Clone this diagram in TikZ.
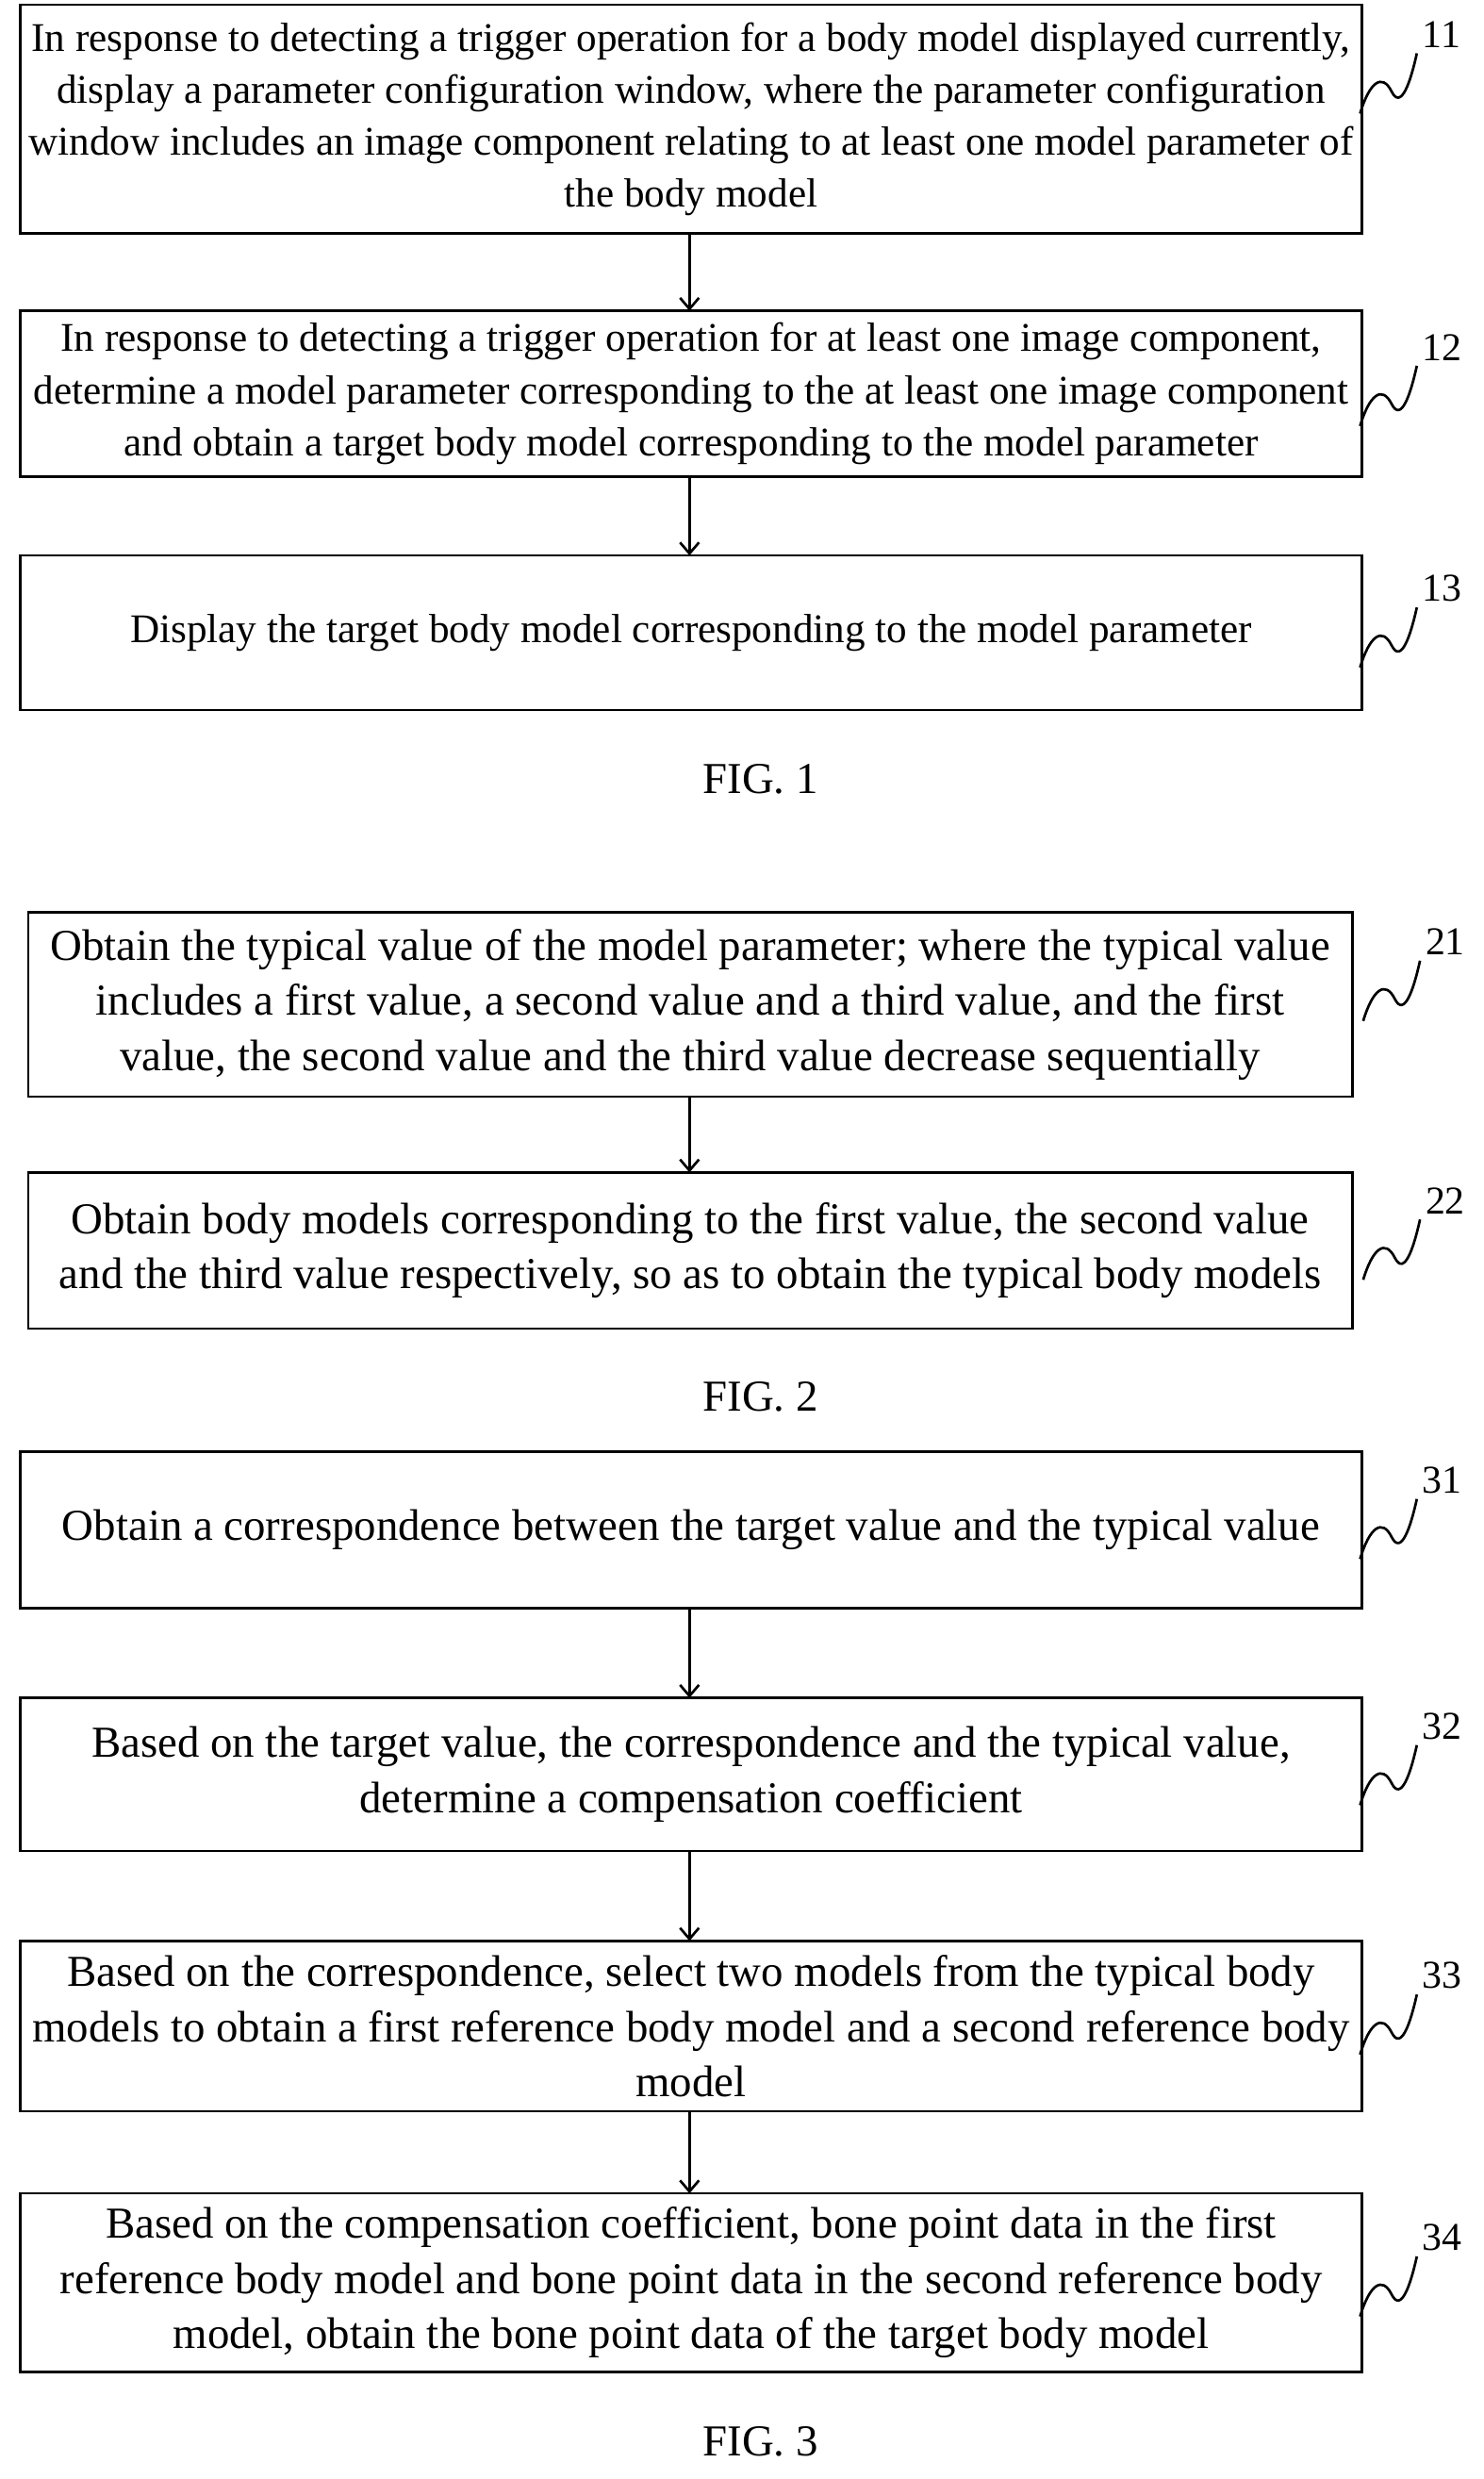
\documentclass[tikz,border=0pt]{standalone}
\usepackage{fontspec}
\setmainfont{Liberation Serif}
\begin{document}
\begin{tikzpicture}[x=1pt,y=-1pt,
 box/.style={draw,line width=1.6pt,align=center,inner sep=0pt},
 fa/.style={font=\fontsize{25.8}{33}\selectfont},
 fb/.style={font=\fontsize{28}{35}\selectfont},
 lab/.style={font=\fontsize{25}{26}\selectfont,anchor=west},
 arr/.style={->,line width=1.6pt,>={Straight Barb[length=7pt,width=12pt]}},
 sq/.style={line width=1.6pt}]
\usetikzlibrary{arrows.meta}
\useasboundingbox (0,0) rectangle (940,1571);
\newcommand{\bx}[6]{% name x1 y1 x2 y2 text
 \draw[line width=1.6pt] (#2,#3) rectangle (#4,#5);
 \node[align=center,inner sep=0pt] (#1) at ({(#2+#4)/2},{(#3+#5)/2}) {#6};}
\newcommand{\lb}[4]{% name x y text ; squiggle from box
 \node[lab] (#1) at (#2,#3) {#4};
 \draw[sq] (#2-36,#3+50) .. controls (#2-30,#3+30) and (#2-22,#3+24) .. (#2-16,#3+36) .. controls (#2-10,#3+48) and (#2-4,#3+30) .. (#1.south west);}
\begin{scope}[fa]
\bx{b11}{13}{3}{863}{148}{In response to detecting a trigger operation for a body model displayed currently,\\display a parameter configuration window, where the parameter configuration\\window includes an image component relating to at least one model parameter of\\the body model}
\bx{b12}{13}{197}{863}{302}{In response to detecting a trigger operation for at least one image component,\\determine a model parameter corresponding to the at least one image component\\and obtain a target body model corresponding to the model parameter}
\bx{b13}{13}{352}{863}{450}{Display the target body model corresponding to the model parameter}
\end{scope}
\node[fb] (f1) at (482,494) {FIG. 1};
\lb{l11}{898}{22}{11}\lb{l12}{898}{220}{12}\lb{l13}{898}{373}{13}
\coordinate (a1) at (437,148);\coordinate (a2) at (437,197);
\coordinate (a3) at (437,302);\coordinate (a4) at (437,352);
\draw[arr] (a1)--(a2); \draw[arr] (a3)--(a4);
\begin{scope}[fb]
\bx{b21}{18}{578}{857}{695}{Obtain the typical value of the model parameter; where the typical value\\includes a first value, a second value and a third value, and the first\\value, the second value and the third value decrease sequentially}
\bx{b22}{18}{743}{857}{842}{Obtain body models corresponding to the first value, the second value\\and the third value respectively, so as to obtain the typical body models}
\end{scope}
\node[fb] (f2) at (482,885) {FIG. 2};
\lb{l21}{900}{597}{21}\lb{l22}{900}{761}{22}
\coordinate (c1) at (437,695);\coordinate (c2) at (437,743);
\draw[arr] (c1)--(c2);
\begin{scope}[fb]
\bx{b31}{13}{920}{863}{1019}{Obtain a correspondence between the target value and the typical value}
\bx{b32}{13}{1076}{863}{1173}{Based on the target value, the correspondence and the typical value,\\determine a compensation coefficient}
\bx{b33}{13}{1230}{863}{1338}{Based on the correspondence, select two models from the typical body\\models to obtain a first reference body model and a second reference body\\model}
\bx{b34}{13}{1390}{863}{1503}{Based on the compensation coefficient, bone point data in the first\\reference body model and bone point data in the second reference body\\model, obtain the bone point data of the target body model}
\end{scope}
\node[fb] (f3) at (482,1547) {FIG. 3};
\lb{l31}{898}{938}{31}\lb{l32}{898}{1094}{32}\lb{l33}{898}{1252}{33}\lb{l34}{898}{1418}{34}
\coordinate (d1) at (437,1019);\coordinate (d2) at (437,1076);
\coordinate (d3) at (437,1173);\coordinate (d4) at (437,1230);
\coordinate (d5) at (437,1338);\coordinate (d6) at (437,1390);
\draw[arr] (d1)--(d2); \draw[arr] (d3)--(d4); \draw[arr] (d5)--(d6);
\end{tikzpicture}
\end{document}
